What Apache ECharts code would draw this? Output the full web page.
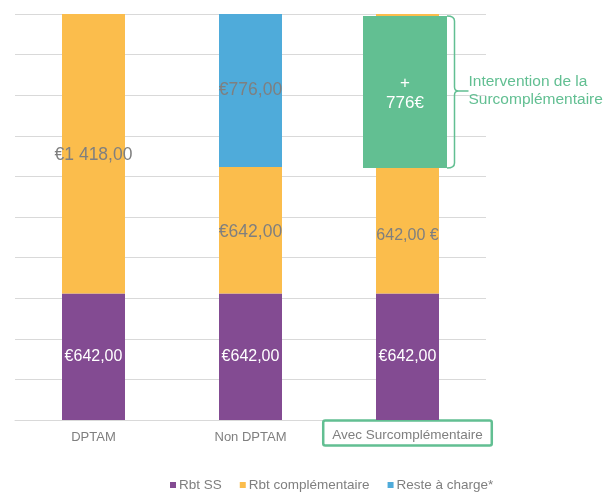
<!DOCTYPE html>
<html>
<head>
<meta charset="utf-8">
<style>
  html, body { margin: 0; padding: 0; background: #ffffff; }
  #chart { width: 616px; height: 492px; }
</style>
<script src="https://cdn.jsdelivr.net/npm/echarts@6/dist/echarts.min.js"></script>
</head>
<body>
<div id="chart"></div>
<script>
// Categories and stacked amounts (euros)
var categories = ['DPTAM', 'Non DPTAM', 'Avec Surcomplémentaire'];
var rbtSS = [642, 642, 642];
var rbtComplementaire = [1418, 642, 642];
var resteACharge = ['-', 776, '-'];
var surcomplementaire = ['-', '-', 776];
var seriesNames = ['Rbt SS', 'Rbt complémentaire', 'Reste à charge*'];
var axisMax = 2060;
var axisStep = 206;

var FONT = '"Liberation Sans", Arial, sans-serif';
var C_PURPLE = '#834b92';
var C_ORANGE = '#fbbd4c';
var C_BLUE = '#4fabda';
var C_GREEN = '#62bf92';
var C_TEXT = '#7f7f7f';

// French style amounts: 1 418,00
function amount(v) {
  var parts = Number(v).toFixed(2).split('.');
  var ints = parts[0].replace(/\B(?=(\d{3})+(?!\d))/g, ' ');
  return ints + ',' + parts[1];
}
function euroFirst(p) { return '€' + amount(p.value); }
function euroLast(p) { return amount(p.value) + ' €'; }

var chart = echarts.init(document.getElementById('chart'), null, { renderer: 'canvas' });

var compData = rbtComplementaire.map(function (v, i) {
  var item = { value: v };
  if (i === 0) item.label = { fontSize: 17.5, offset: [0, 1] };
  if (i === 1) item.label = { fontSize: 17.5, offset: [0, 2] };
  if (i === 2) item.label = { fontSize: 16, formatter: euroLast, offset: [0, 5] };
  return item;
});

var option = {
  animation: false,
  textStyle: { fontFamily: FONT },
  grid: { left: 15, right: 130, top: 14, bottom: 72 },
  legend: {
    data: seriesNames,
    left: 165,
    top: 473,
    icon: 'rect',
    itemWidth: 6,
    itemHeight: 6,
    itemGap: 18,
    textStyle: { fontFamily: FONT, fontSize: 13.5, color: C_TEXT, padding: [0, 0, 0, -2] }
  },
  xAxis: {
    type: 'category',
    data: categories,
    axisLine: { show: true, lineStyle: { color: '#d9d9d9', width: 1 } },
    axisTick: { show: false },
    axisLabel: {
      margin: 5,
      interval: 0,
      fontFamily: FONT,
      fontSize: 13,
      color: C_TEXT,
      formatter: function (v) {
        return v === categories[2] ? '{box|' + v + '}' : '{plain|' + v + '}';
      },
      rich: {
        plain: { fontFamily: FONT, fontSize: 13, color: C_TEXT, lineHeight: 16, padding: [9, 0, 0, 0] },
        box: {
          fontFamily: FONT, fontSize: 13.5, color: C_TEXT, lineHeight: 16,
          padding: [8, 9, 3, 9],
          borderColor: C_GREEN, borderWidth: 2.5, borderRadius: 2
        }
      }
    }
  },
  yAxis: {
    type: 'value',
    min: 0,
    max: axisMax,
    interval: axisStep,
    axisLine: { show: false },
    axisTick: { show: false },
    axisLabel: { show: false },
    splitLine: { show: true, lineStyle: { color: '#d9d9d9', width: 1 } }
  },
  series: [
    {
      name: seriesNames[0],
      type: 'bar',
      stack: 'total',
      barWidth: 63,
      data: rbtSS,
      itemStyle: { color: C_PURPLE },
      label: { show: true, position: 'inside', color: '#ffffff', fontSize: 16, fontFamily: FONT, formatter: euroFirst }
    },
    {
      name: seriesNames[1],
      type: 'bar',
      stack: 'total',
      barWidth: 63,
      data: compData,
      itemStyle: { color: C_ORANGE },
      label: { show: true, position: 'inside', color: C_TEXT, fontSize: 17, fontFamily: FONT, formatter: euroFirst }
    },
    {
      name: seriesNames[2],
      type: 'bar',
      stack: 'total',
      barWidth: 63,
      data: resteACharge,
      itemStyle: { color: C_BLUE },
      label: { show: true, position: 'inside', color: C_TEXT, fontSize: 17.5, fontFamily: FONT, formatter: euroFirst }
    },
    {
      name: 'Surcomplémentaire',
      type: 'bar',
      stack: 'total',
      barWidth: 63,
      data: surcomplementaire,
      itemStyle: { color: C_ORANGE },
      label: { show: false }
    },
    {
      // Green overlay and brace showing the extra cover
      name: 'Intervention',
      type: 'custom',
      z: 10,
      data: [[2, rbtSS[2] + rbtComplementaire[2], rbtSS[2] + rbtComplementaire[2] + surcomplementaire[2]]],
      encode: { x: 0, y: [1, 2] },
      renderItem: function (params, api) {
        var top = api.coord([api.value(0), api.value(2)]);
        var bottom = api.coord([api.value(0), api.value(1)]);
        var cx = top[0];
        var x0 = cx - 44.5;
        var x1 = cx + 39.5;
        var y0 = top[1] + 2;
        var y1 = bottom[1] + 1;
        var ym = (y0 + y1) / 2 - 1;
        var bx = x1 + 7.5;
        var path = 'M' + x1 + ' ' + y0 +
          ' Q' + bx + ' ' + y0 + ' ' + bx + ' ' + (y0 + 5) +
          ' L' + bx + ' ' + (ym - 4) +
          ' Q' + bx + ' ' + ym + ' ' + (bx + 4) + ' ' + ym +
          ' L' + (bx + 14) + ' ' + ym +
          ' M' + (bx + 4) + ' ' + ym +
          ' Q' + bx + ' ' + ym + ' ' + bx + ' ' + (ym + 4) +
          ' L' + bx + ' ' + (y1 - 5) +
          ' Q' + bx + ' ' + y1 + ' ' + x1 + ' ' + y1;
        return {
          type: 'group',
          children: [
            {
              type: 'rect',
              shape: { x: x0, y: y0, width: x1 - x0, height: y1 - y0 },
              style: { fill: C_GREEN }
            },
            {
              type: 'text',
              style: {
                x: (x0 + x1) / 2, y: (y0 + y1) / 2 + 1,
                text: '+\n' + (api.value(2) - api.value(1)) + '€',
                fill: '#ffffff', fontSize: 17, lineHeight: 20, fontFamily: FONT,
                align: 'center', verticalAlign: 'middle'
              }
            },
            {
              type: 'path',
              shape: { pathData: path },
              style: { fill: null, stroke: C_GREEN, lineWidth: 1.5 }
            },
            {
              type: 'text',
              style: {
                x: bx + 14, y: ym,
                text: 'Intervention de la\nSurcomplémentaire',
                fill: C_GREEN, fontSize: 15.5, lineHeight: 18, fontFamily: FONT,
                align: 'left', verticalAlign: 'middle'
              }
            }
          ]
        };
      }
    }
  ]
};

chart.setOption(option);
</script>
</body>
</html>
